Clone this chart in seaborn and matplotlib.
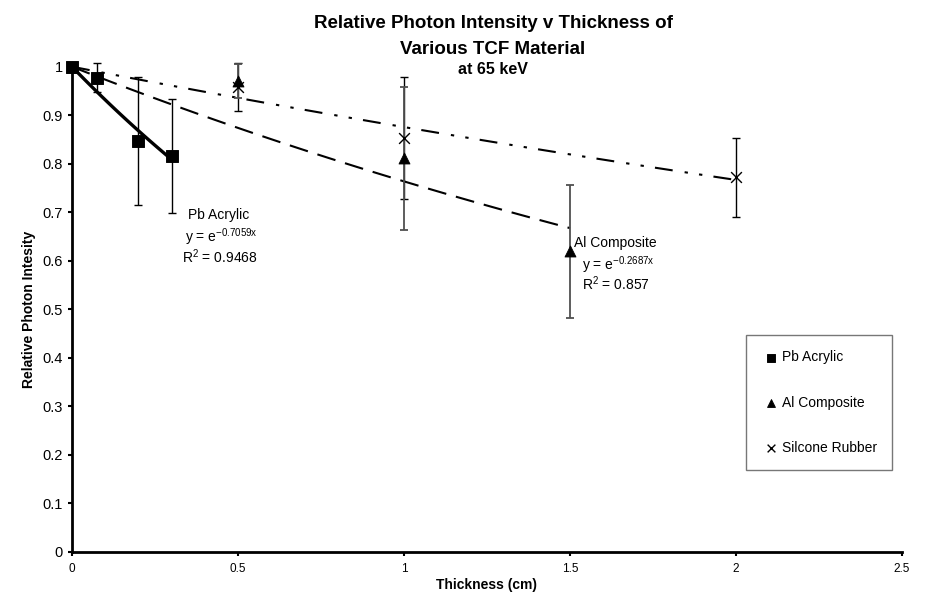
import numpy as np
import pandas as pd
import matplotlib
matplotlib.use("Agg")
import matplotlib.pyplot as plt
import seaborn as sns

# ---- data ----
pb_x = [0.0, 0.075, 0.2, 0.3]
pb_y = [1.0, 0.977, 0.847, 0.816]
pb_err = [0.0, 0.03, 0.132, 0.117]

al_x = [0.0, 0.5, 1.0, 1.5]
al_y = [1.0, 0.970, 0.811, 0.619]
al_err = [0.0, 0.035, 0.148, 0.138]

si_x = [0.0, 0.5, 1.0, 2.0]
si_y = [1.0, 0.958, 0.853, 0.772]
si_err = [0.0, 0.05, 0.125, 0.082]

series_names = ["Pb Acrylic", "Al Composite", "Silcone Rubber"]
x_ticks = [0, 0.5, 1, 1.5, 2, 2.5]
y_ticks = [0, 0.1, 0.2, 0.3, 0.4, 0.5, 0.6, 0.7, 0.8, 0.9, 1]

sns.set_theme(style="white")
plt.rcParams["font.family"] = ["Liberation Sans", "DejaVu Sans"]
plt.rcParams["mathtext.fontset"] = "custom"
plt.rcParams["mathtext.rm"] = "Liberation Sans"
plt.rcParams["mathtext.it"] = "Liberation Sans:italic"
plt.rcParams["mathtext.bf"] = "Liberation Sans:bold"
for k in ["text.color", "axes.labelcolor", "xtick.color", "ytick.color"]:
    plt.rcParams[k] = "black"

fig = plt.figure(figsize=(9.25, 5.92), dpi=100)
ax = fig.add_axes([72 / 925, 1 - 551.7 / 592, (902 - 72) / 925, (551.7 - 66.7) / 592])


def fit_k(x, y):
    x = np.asarray(x)
    ly = np.log(np.asarray(y))
    return np.sum(x * ly) / np.sum(x * x)


def trend_df(x, y):
    k = fit_k(x, y)
    xs = np.linspace(0, max(x), 50)
    return pd.DataFrame({"x": xs, "y": np.exp(k * xs)})


# trend lines
t_pb = trend_df(pb_x, pb_y)
t_al = trend_df(al_x, al_y)
t_si = trend_df(si_x, si_y)
sns.lineplot(data=t_si, x="x", y="y", ax=ax, color="black", lw=1.5,
             linestyle=(0, (8.6, 5.8, 1.6, 5.4, 1.6, 5.4)), zorder=2)
sns.lineplot(data=t_al, x="x", y="y", ax=ax, color="black", lw=1.5,
             linestyle=(0, (9.1, 4.8)), zorder=2)
sns.lineplot(data=t_pb, x="x", y="y", ax=ax, color="black", lw=2.4,
             linestyle="-", zorder=3)

# error bars
ax.errorbar(si_x, si_y, yerr=si_err, fmt="none", ecolor="black", elinewidth=1.0,
            capsize=3.2, capthick=1.0, zorder=4, clip_on=False)
ax.errorbar(al_x, al_y, yerr=al_err, fmt="none", ecolor="#505050", elinewidth=1.3,
            capsize=3.2, capthick=1.3, zorder=4, clip_on=False)
ax.errorbar(pb_x, pb_y, yerr=pb_err, fmt="none", ecolor="black", elinewidth=1.0,
            capsize=3.2, capthick=1.0, zorder=4, clip_on=False)

# markers
sns.scatterplot(x=si_x, y=si_y, ax=ax, marker="x", s=60, color="black",
                linewidth=1.0, zorder=5, clip_on=False, label=series_names[2])
sns.scatterplot(x=al_x, y=al_y, ax=ax, marker="^", s=62, color="black",
                edgecolor="black", zorder=5, clip_on=False, label=series_names[1])
sns.scatterplot(x=pb_x, y=pb_y, ax=ax, marker="s", s=68, color="black",
                edgecolor="black", zorder=6, clip_on=False, label=series_names[0])

ax.set_xlim(0, 2.5)
ax.set_ylim(0, 1)
ax.set_xticks(x_ticks)
ax.set_xticklabels([f"{t:g}" for t in x_ticks])
ax.set_yticks(y_ticks)
ax.set_yticklabels([f"{t:g}" for t in y_ticks])
for s in ["top", "right"]:
    ax.spines[s].set_visible(False)
for s in ["left", "bottom"]:
    ax.spines[s].set_color("black")
    ax.spines[s].set_linewidth(2.0)
ax.tick_params(axis="both", which="major", direction="out", length=3, width=1.5,
               color="black", bottom=True, left=True)
ax.tick_params(axis="x", labelsize=8.5, pad=5)
ax.tick_params(axis="y", labelsize=10.5, pad=3.5)
ax.set_xlabel("Thickness (cm)", fontsize=10, fontweight="bold", labelpad=2)
ax.set_ylabel("Relative Photon Intesity", fontsize=10, fontweight="bold", labelpad=5)
ax.grid(False)

# legend
handles, labels = ax.get_legend_handles_labels()
order = [labels.index(n) for n in series_names]
leg = ax.legend([handles[i] for i in order], [labels[i] for i in order],
                loc="upper left", bbox_to_anchor=(745.7 / 925, 1 - 335 / 592),
                bbox_transform=fig.transFigure, fontsize=10, frameon=True,
                fancybox=False, edgecolor="#555555", labelspacing=2.25,
                handlelength=1.5, handletextpad=0.0, borderpad=1.1,
                markerscale=0.72, borderaxespad=0)
leg.get_frame().set_linewidth(1.0)
leg.get_frame().set_facecolor("white")

# annotations
def px2d(px, py):
    return (px - 72) / 332, (551.7 - py) / 485

for (txt, px, py) in [("Pb Acrylic", 188, 215),
                      (r"y = e$^{\mathregular{-0.7059x}}$", 185, 237),
                      (r"R$^{\mathregular{2}}$ = 0.9468", 181.7, 257),
                      ("Al Composite", 574, 243),
                      (r"y = e$^{\mathregular{-0.2687x}}$", 582, 265),
                      (r"R$^{\mathregular{2}}$ = 0.857", 582, 284)]:
    dx, dy = px2d(px, py)
    ax.text(dx, dy, txt, fontsize=10, ha="left", va="center", color="black", zorder=7)

# title
cx = 493 / 925
fig.text(cx, 1 - 23.3 / 592, "Relative Photon Intensity v Thickness of", ha="center",
         va="center", fontsize=13.5, fontweight="bold")
fig.text(cx, 1 - 50 / 592, "Various TCF Material", ha="center", va="center",
         fontsize=13.5, fontweight="bold")
fig.text(cx, 1 - 69 / 592, "at 65 keV", ha="center", va="center",
         fontsize=11.5, fontweight="bold")

fig.savefig("out.png", dpi=100)
